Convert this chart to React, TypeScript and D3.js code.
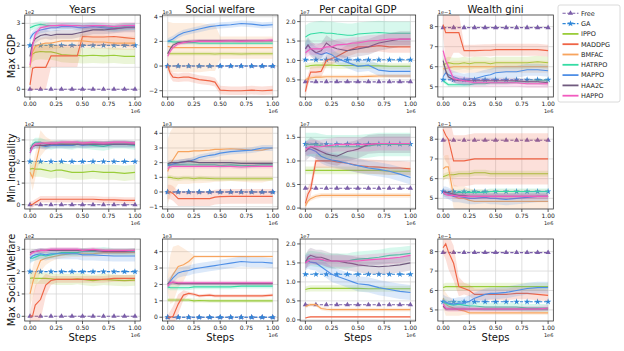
import React from 'react';
import * as d3 from 'd3';

// ---------- data ----------
const steps = [0, 0.025, 0.05, 0.1, 0.15, 0.2, 0.25, 0.3, 0.4, 0.45, 0.5, 0.6, 0.7, 0.8, 0.9, 1.0];
const markerSteps = [0, 0.1, 0.2, 0.3, 0.4, 0.5, 0.6, 0.7, 0.8, 0.9, 1.0];
const methods = ['Free', 'GA', 'IPPO', 'MADDPG', 'BMFAC', 'HATRPO', 'MAPPO', 'HAA2C', 'HAPPO'];
const learners = ['IPPO', 'MADDPG', 'BMFAC', 'HATRPO', 'MAPPO', 'HAA2C', 'HAPPO'];
const colTitles = ['Years', 'Social welfare', 'Per capital GDP', 'Wealth gini'];
const rowTitles = ['Max GDP', 'Min Inequality', 'Max Social Welfare'];
const xTickValues = [0, 0.25, 0.5, 0.75, 1.0];
const xTickLabels = ['0.00', '0.25', '0.50', '0.75', '1.00'];

// Row 1: Max GDP
const gdpYears = {
  Free: 0, GA: 2,
  IPPO: [1.5, 1.6, 1.68, 1.72, 1.7, 1.7, 1.65, 1.58, 1.55, 1.55, 1.52, 1.55, 1.52, 1.55, 1.5, 1.5],
  MADDPG: [0.2, 0.95, 1.0, 1.0, 1.0, 1.52, 1.52, 1.52, 1.52, 1.52, 2.4, 2.38, 2.38, 2.4, 2.35, 2.3],
  BMFAC: [1.0, 1.7, 1.95, 2.05, 2.1, 2.1, 2.15, 2.2, 2.2, 2.2, 2.2, 2.15, 2.15, 2.1, 2.1, 2.1],
  HATRPO: [2.8, 2.85, 2.9, 2.95, 2.92, 2.9, 2.9, 2.88, 2.9, 2.9, 2.88, 2.9, 2.85, 2.8, 2.85, 2.85],
  MAPPO: [2.3, 2.5, 2.6, 2.7, 2.75, 2.8, 2.8, 2.85, 2.85, 2.82, 2.8, 2.85, 2.8, 2.75, 2.8, 2.85],
  HAA2C: [1.5, 2.1, 2.3, 2.45, 2.5, 2.45, 2.5, 2.5, 2.5, 2.55, 2.6, 2.7, 2.7, 2.75, 2.8, 2.8],
  HAPPO: [1.1, 2.0, 2.5, 2.8, 2.85, 2.9, 2.9, 2.92, 2.9, 2.9, 2.88, 2.9, 2.9, 2.85, 2.9, 2.9],
};
const gdpYearsBand = {
  IPPO: 0.35, MADDPG: [0.2, 1.0, 1.0, 1.0, 1.0, 0.5, 0.5, 0.5, 0.5, 0.5, 0.4, 0.4, 0.4, 0.4, 0.4, 0.4],
  BMFAC: 0.3, HATRPO: 0.15, MAPPO: 0.15, HAA2C: 0.2, HAPPO: 0.15,
};
const gdpWelfare = {
  Free: 0, GA: 0,
  IPPO: [1.05, 1.0, 1.0, 1.0, 1.0, 1.0, 1.0, 1.0, 1.0, 0.98, 1.0, 1.0, 0.98, 1.0, 1.0, 1.0],
  MADDPG: [0, -0.6, -0.9, -0.95, -0.9, -0.9, -1.0, -1.1, -1.2, -1.3, -1.95, -2.0, -2.0, -1.95, -2.0, -1.95],
  BMFAC: [1.6, 1.55, 1.5, 1.5, 1.5, 1.5, 1.5, 1.5, 1.5, 1.5, 1.5, 1.5, 1.5, 1.5, 1.5, 1.5],
  HATRPO: [2.0, 2.0, 1.95, 1.95, 1.9, 1.9, 1.9, 1.85, 1.85, 1.85, 1.85, 1.85, 1.85, 1.85, 1.85, 1.85],
  MAPPO: [2.0, 2.1, 2.2, 2.5, 2.7, 2.8, 2.9, 3.0, 3.2, 3.25, 3.3, 3.35, 3.45, 3.4, 3.3, 3.35],
  HAA2C: [1.0, 1.4, 1.7, 1.9, 1.95, 2.0, 2.0, 2.05, 2.05, 2.05, 2.05, 2.05, 2.05, 2.05, 2.05, 2.05],
  HAPPO: [0.8, 1.2, 1.5, 1.8, 1.9, 1.95, 2.0, 2.0, 2.0, 2.0, 2.0, 2.05, 2.0, 2.05, 2.05, 2.1],
};
const gdpWelfareBand = {
  IPPO: 0.15, MADDPG: 0.35,
  BMFAC: [2.0, 2.0, 2.0, 2.0, 2.0, 2.0, 2.0, 2.0, 1.9, 1.9, 0.9, 0.9, 0.9, 0.9, 0.9, 0.9],
  HATRPO: 0.15, MAPPO: 0.25, HAA2C: 0.15, HAPPO: 0.15,
};
const gdpPerCapita = {
  Free: 0.45, GA: 1.02,
  IPPO: [0.85, 0.85, 0.87, 0.88, 0.88, 0.88, 0.88, 0.87, 0.87, 0.87, 0.86, 0.86, 0.86, 0.85, 0.85, 0.85],
  MADDPG: [0.2, 0.5, 0.7, 0.7, 0.72, 1.0, 1.05, 1.1, 1.25, 1.3, 1.35, 1.35, 1.38, 1.35, 1.35, 1.35],
  BMFAC: [0.5, 0.55, 0.55, 0.57, 0.57, 0.58, 0.58, 0.58, 0.58, 0.58, 0.58, 0.59, 0.6, 0.6, 0.6, 0.6],
  HATRPO: [1.6, 1.65, 1.68, 1.7, 1.72, 1.7, 1.7, 1.68, 1.65, 1.65, 1.68, 1.7, 1.72, 1.7, 1.7, 1.7],
  MAPPO: [1.3, 1.4, 1.3, 1.2, 1.15, 1.2, 1.15, 1.05, 0.95, 0.9, 0.85, 0.88, 0.75, 0.72, 0.72, 0.72],
  HAA2C: [1.3, 1.4, 1.3, 1.2, 1.25, 1.45, 1.35, 1.3, 1.25, 1.28, 1.3, 1.35, 1.45, 1.5, 1.55, 1.55],
  HAPPO: [1.2, 1.25, 1.3, 1.3, 1.3, 1.35, 1.35, 1.4, 1.42, 1.45, 1.45, 1.5, 1.52, 1.55, 1.55, 1.55],
};
const gdpPerCapitaBand = {
  IPPO: 0.08, MADDPG: 0.15, BMFAC: 0.05, HATRPO: 0.3, MAPPO: 0.15, HAA2C: 0.2, HAPPO: 0.15,
};
const gdpGini = {
  Free: 7.95, GA: 5.35,
  IPPO: [6.1, 6.15, 6.2, 6.15, 6.15, 6.2, 6.15, 6.2, 6.2, 6.15, 6.2, 6.2, 6.2, 6.2, 6.25, 6.2],
  MADDPG: [8.1, 7.7, 7.7, 7.7, 7.7, 6.8, 6.8, 6.8, 6.82, 6.82, 6.85, 6.85, 6.85, 6.85, 6.85, 6.8],
  BMFAC: [5.9, 5.9, 5.95, 6.0, 6.0, 6.0, 6.0, 6.0, 6.0, 6.0, 6.0, 6.0, 6.0, 6.0, 6.0, 6.0],
  HATRPO: [5.3, 5.2, 5.1, 5.1, 5.1, 5.1, 5.1, 5.15, 5.15, 5.2, 5.2, 5.2, 5.25, 5.25, 5.3, 5.3],
  MAPPO: [5.5, 5.7, 5.6, 5.5, 5.4, 5.35, 5.4, 5.4, 5.55, 5.6, 5.7, 5.75, 5.75, 5.85, 5.85, 5.8],
  HAA2C: [6.3, 5.8, 5.5, 5.35, 5.3, 5.3, 5.3, 5.3, 5.3, 5.3, 5.3, 5.3, 5.3, 5.25, 5.25, 5.2],
  HAPPO: [6.8, 6.3, 6.0, 5.4, 5.35, 5.3, 5.25, 5.2, 5.2, 5.2, 5.2, 5.2, 5.2, 5.15, 5.15, 5.15],
};
const gdpGiniBand = {
  IPPO: 0.3, MADDPG: [0.5, 1.5, 1.5, 1.0, 1.0, 0.3, 0.3, 0.3, 0.3, 0.3, 0.3, 0.3, 0.3, 0.3, 0.3, 0.3],
  BMFAC: 0.3, HATRPO: 0.1, MAPPO: 0.3, HAA2C: 0.15, HAPPO: 0.2,
};

// Row 2: Min Inequality
const ineqYears = {
  Free: 0, GA: 2,
  IPPO: [1.65, 1.68, 1.65, 1.65, 1.6, 1.55, 1.6, 1.6, 1.5, 1.5, 1.5, 1.55, 1.5, 1.5, 1.45, 1.5],
  MADDPG: [0, 0.02, 0.1, 0.25, 0.25, 0.25, 0.25, 0.25, 0.25, 0.25, 0.25, 0.25, 0.22, 0.22, 0.2, 0.2],
  BMFAC: [1.5, 1.25, 1.8, 2.85, 2.85, 2.85, 2.85, 2.85, 2.85, 2.85, 2.85, 2.85, 2.85, 2.85, 2.85, 2.85],
  HATRPO: [2.5, 2.8, 2.9, 2.9, 2.8, 2.75, 2.8, 2.8, 2.75, 2.8, 2.8, 2.75, 2.7, 2.8, 2.8, 2.75],
  MAPPO: [2.4, 2.7, 2.75, 2.75, 2.7, 2.75, 2.75, 2.75, 2.75, 2.8, 2.75, 2.8, 2.8, 2.8, 2.8, 2.8],
  HAA2C: [2.6, 2.7, 2.75, 2.75, 2.75, 2.8, 2.8, 2.8, 2.8, 2.8, 2.8, 2.8, 2.8, 2.8, 2.8, 2.8],
  HAPPO: [2.4, 2.7, 2.8, 2.85, 2.85, 2.85, 2.85, 2.9, 2.9, 2.9, 2.85, 2.9, 2.85, 2.9, 2.9, 2.85],
};
const ineqYearsBand = {
  IPPO: 0.35, MADDPG: 0.15, BMFAC: [0.3, 0.6, 0.6, 0.6, 0.3, 0.15, 0.1, 0.1, 0.1, 0.1, 0.1, 0.1, 0.1, 0.1, 0.1, 0.1],
  HATRPO: 0.2, MAPPO: 0.15, HAA2C: 0.15, HAPPO: 0.1,
};
const ineqWelfare = {
  Free: 0, GA: 0,
  IPPO: [1.0, 1.0, 0.95, 0.9, 0.95, 0.95, 0.9, 0.95, 0.92, 0.9, 0.9, 0.9, 0.9, 0.9, 0.9, 0.9],
  MADDPG: [0, 0, -0.1, -0.45, -0.45, -0.45, -0.45, -0.45, -0.45, -0.35, -0.32, -0.3, -0.3, -0.3, -0.3, -0.3],
  BMFAC: [1.4, 1.9, 2.2, 2.75, 2.75, 2.75, 2.8, 2.8, 2.85, 2.9, 2.9, 2.95, 2.9, 2.85, 2.85, 3.0],
  HATRPO: [1.9, 1.85, 1.85, 1.85, 1.85, 1.85, 1.85, 1.85, 1.85, 1.85, 1.8, 1.85, 1.8, 1.8, 1.85, 1.85],
  MAPPO: [1.8, 1.85, 1.9, 2.0, 2.05, 2.1, 2.2, 2.35, 2.5, 2.55, 2.65, 2.75, 2.8, 2.85, 3.0, 3.0],
  HAA2C: [1.9, 2.0, 2.0, 2.0, 2.05, 2.1, 2.05, 2.0, 2.0, 2.0, 2.0, 2.0, 1.95, 1.95, 1.95, 1.95],
  HAPPO: [1.6, 1.7, 1.75, 1.75, 1.75, 1.75, 1.75, 1.75, 1.75, 1.75, 1.75, 1.75, 1.7, 1.75, 1.75, 1.75],
};
const ineqWelfareBand = {
  IPPO: 0.15, MADDPG: 0.5, BMFAC: 2.2, HATRPO: 0.15, MAPPO: 0.2, HAA2C: 0.2, HAPPO: 0.15,
};
const ineqPerCapita = {
  Free: 0.42, GA: 1.36,
  IPPO: [0.8, 0.8, 0.8, 0.8, 0.8, 0.8, 0.8, 0.8, 0.8, 0.8, 0.8, 0.8, 0.8, 0.78, 0.78, 0.78],
  MADDPG: [0.1, 0.3, 0.4, 1.0, 1.0, 1.0, 1.0, 0.98, 0.95, 0.93, 0.9, 0.88, 0.87, 0.85, 0.85, 0.83],
  BMFAC: [0.05, 0.15, 0.2, 0.25, 0.27, 0.27, 0.27, 0.27, 0.27, 0.27, 0.27, 0.27, 0.27, 0.27, 0.27, 0.27],
  HATRPO: [1.35, 1.35, 1.35, 1.35, 1.32, 1.3, 1.3, 1.3, 1.3, 1.3, 1.3, 1.32, 1.35, 1.35, 1.35, 1.35],
  MAPPO: [1.3, 1.25, 1.25, 1.2, 1.1, 1.05, 1.02, 1.0, 0.95, 0.92, 0.9, 0.85, 0.82, 0.78, 0.72, 0.65],
  HAA2C: [1.2, 1.25, 1.3, 1.25, 1.2, 1.15, 1.12, 1.1, 1.2, 1.22, 1.25, 1.35, 1.37, 1.37, 1.37, 1.37],
  HAPPO: [1.25, 1.28, 1.3, 1.3, 1.3, 1.32, 1.33, 1.35, 1.35, 1.35, 1.35, 1.35, 1.37, 1.37, 1.37, 1.37],
};
const ineqPerCapitaBand = {
  IPPO: 0.08, MADDPG: 0.15, BMFAC: 0.05, HATRPO: 0.25, MAPPO: 0.15, HAA2C: 0.2, HAPPO: 0.15,
};
const ineqGini = {
  Free: 7.95, GA: 5.35,
  IPPO: [6.1, 6.15, 6.2, 6.2, 6.25, 6.25, 6.25, 6.3, 6.3, 6.25, 6.25, 6.25, 6.25, 6.25, 6.25, 6.25],
  MADDPG: [8.5, 8.2, 8.0, 6.9, 6.9, 6.9, 6.95, 7.0, 7.0, 7.0, 7.0, 7.0, 7.0, 7.0, 7.0, 7.0],
  BMFAC: [6.5, 6.6, 6.6, 5.1, 5.0, 5.0, 4.9, 4.85, 4.85, 4.85, 4.85, 4.85, 4.85, 4.85, 4.85, 4.85],
  HATRPO: [5.25, 5.2, 5.2, 5.25, 5.3, 5.3, 5.3, 5.3, 5.3, 5.35, 5.35, 5.35, 5.35, 5.35, 5.35, 5.35],
  MAPPO: [5.3, 5.3, 5.25, 5.1, 5.1, 5.05, 5.0, 5.0, 5.05, 5.0, 5.0, 4.95, 5.0, 5.05, 5.1, 5.1],
  HAA2C: [5.35, 5.3, 5.3, 5.2, 5.15, 5.15, 5.1, 5.1, 5.1, 5.1, 5.1, 5.1, 5.1, 5.1, 5.1, 5.1],
  HAPPO: [5.3, 5.2, 5.15, 5.15, 5.1, 5.1, 5.1, 5.1, 5.1, 5.1, 5.1, 5.1, 5.1, 5.1, 5.1, 5.1],
};
const ineqGiniBand = {
  IPPO: 0.15, MADDPG: 1.3, BMFAC: 0.6, HATRPO: 0.15, MAPPO: 0.3, HAA2C: 0.15, HAPPO: 0.15,
};

// Row 3: Max Social Welfare
const welfYears = {
  Free: 0, GA: 2,
  IPPO: [1.7, 1.72, 1.7, 1.7, 1.7, 1.68, 1.65, 1.65, 1.65, 1.68, 1.65, 1.6, 1.65, 1.62, 1.6, 1.62],
  MADDPG: [0, 0.02, 0.5, 0.75, 1.4, 1.6, 1.65, 1.65, 1.65, 1.65, 1.65, 1.65, 1.65, 1.7, 1.7, 1.7],
  BMFAC: [1.0, 1.5, 1.9, 2.5, 2.6, 2.65, 2.7, 2.75, 2.8, 2.8, 2.8, 2.8, 2.85, 2.85, 2.85, 2.85],
  HATRPO: [2.6, 2.6, 2.65, 2.75, 2.7, 2.75, 2.8, 2.85, 2.85, 2.85, 2.9, 2.9, 2.95, 2.9, 2.9, 2.9],
  MAPPO: [2.6, 2.7, 2.75, 2.8, 2.75, 2.8, 2.8, 2.8, 2.8, 2.8, 2.75, 2.75, 2.72, 2.7, 2.7, 2.7],
  HAA2C: [2.85, 2.9, 2.9, 2.95, 2.95, 2.95, 2.95, 2.95, 2.95, 2.95, 2.95, 2.95, 2.9, 2.9, 2.9, 2.95],
  HAPPO: [2.75, 2.85, 2.9, 2.95, 2.95, 3.0, 3.0, 3.0, 3.0, 3.0, 2.95, 3.0, 2.95, 2.95, 2.95, 2.95],
};
const welfYearsBand = {
  IPPO: 0.25, MADDPG: [0.1, 0.8, 0.9, 0.9, 0.5, 0.2, 0.15, 0.15, 0.15, 0.15, 0.15, 0.15, 0.15, 0.15, 0.15, 0.15],
  BMFAC: [0.5, 0.7, 0.7, 0.5, 0.3, 0.2, 0.15, 0.15, 0.15, 0.15, 0.15, 0.15, 0.15, 0.15, 0.15, 0.15],
  HATRPO: 0.15, MAPPO: 0.25, HAA2C: 0.1, HAPPO: 0.1,
};
const welfWelfare = {
  Free: 0, GA: 0,
  IPPO: [1.05, 1.05, 1.05, 1.05, 1.05, 1.05, 1.0, 1.02, 1.0, 1.0, 1.0, 1.0, 1.0, 1.0, 1.0, 1.0],
  MADDPG: [0, 0, 0.05, 0.8, 1.35, 1.45, 1.4, 1.3, 1.35, 1.3, 1.3, 1.3, 1.3, 1.3, 1.3, 1.35],
  BMFAC: [2.0, 2.3, 2.6, 3.1, 3.2, 3.4, 3.7, 3.7, 3.7, 3.7, 3.7, 3.7, 3.7, 3.7, 3.7, 3.7],
  HATRPO: [1.85, 1.8, 1.8, 1.8, 1.8, 1.8, 1.85, 1.85, 1.85, 1.85, 1.85, 1.85, 1.9, 1.9, 1.9, 1.9],
  MAPPO: [2.0, 2.2, 2.4, 2.7, 2.8, 2.85, 2.95, 3.0, 3.1, 3.15, 3.2, 3.3, 3.4, 3.35, 3.35, 3.3],
  HAA2C: [2.05, 2.1, 2.1, 2.05, 2.05, 2.05, 2.05, 2.05, 2.05, 2.05, 2.05, 2.05, 2.05, 2.05, 2.05, 2.05],
  HAPPO: [1.9, 2.1, 2.15, 2.1, 2.1, 2.1, 2.1, 2.1, 2.1, 2.1, 2.1, 2.1, 2.1, 2.1, 2.1, 2.1],
};
const welfWelfareBand = {
  IPPO: 0.12, MADDPG: [0.1, 0.4, 0.6, 0.6, 0.3, 0.1, 0.1, 0.1, 0.1, 0.1, 0.1, 0.1, 0.1, 0.1, 0.1, 0.1],
  BMFAC: [0.5, 1.5, 1.7, 1.3, 1.0, 0.6, 0.1, 0.08, 0.08, 0.08, 0.08, 0.08, 0.08, 0.08, 0.08, 0.08],
  HATRPO: 0.15, MAPPO: 0.3, HAA2C: 0.12, HAPPO: 0.12,
};
const welfPerCapita = {
  Free: 0.4, GA: 1.2,
  IPPO: [0.8, 0.82, 0.83, 0.83, 0.83, 0.83, 0.83, 0.83, 0.83, 0.83, 0.83, 0.82, 0.82, 0.82, 0.82, 0.82],
  MADDPG: [0.05, 0.07, 0.08, 0.08, 0.08, 0.08, 0.08, 0.08, 0.08, 0.08, 0.08, 0.08, 0.08, 0.08, 0.08, 0.08],
  BMFAC: [0.35, 0.38, 0.4, 0.4, 0.3, 0.28, 0.27, 0.27, 0.27, 0.27, 0.27, 0.27, 0.27, 0.27, 0.27, 0.27],
  HATRPO: [1.55, 1.6, 1.62, 1.6, 1.58, 1.55, 1.55, 1.55, 1.55, 1.58, 1.6, 1.62, 1.65, 1.7, 1.72, 1.75],
  MAPPO: [1.5, 1.55, 1.52, 1.5, 1.4, 1.3, 1.2, 1.15, 1.05, 1.0, 0.95, 0.92, 0.85, 0.8, 0.75, 0.72],
  HAA2C: [1.5, 1.65, 1.7, 1.65, 1.65, 1.6, 1.55, 1.55, 1.5, 1.48, 1.45, 1.42, 1.4, 1.42, 1.45, 1.5],
  HAPPO: [1.5, 1.55, 1.6, 1.6, 1.6, 1.55, 1.55, 1.55, 1.55, 1.55, 1.55, 1.58, 1.6, 1.62, 1.65, 1.7],
};
const welfPerCapitaBand = {
  IPPO: 0.08, MADDPG: 0.02, BMFAC: 0.05, HATRPO: 0.2, MAPPO: 0.2, HAA2C: 0.2, HAPPO: 0.15,
};
const welfGini = {
  Free: 7.95, GA: 5.42,
  IPPO: [6.15, 6.2, 6.2, 6.2, 6.2, 6.2, 6.2, 6.2, 6.2, 6.2, 6.2, 6.2, 6.2, 6.2, 6.2, 6.2],
  MADDPG: [8.2, 8.4, 8.0, 7.4, 6.2, 6.1, 6.0, 5.8, 5.8, 5.8, 5.8, 5.8, 5.85, 5.85, 5.8, 5.75],
  BMFAC: [5.6, 5.3, 5.2, 5.1, 5.0, 4.95, 4.85, 4.85, 4.85, 4.85, 4.85, 4.85, 4.85, 4.85, 4.85, 4.85],
  HATRPO: [5.45, 5.35, 5.3, 5.25, 5.3, 5.25, 5.2, 5.2, 5.15, 5.15, 5.15, 5.15, 5.15, 5.1, 5.1, 5.1],
  MAPPO: [5.5, 5.4, 5.35, 5.3, 5.35, 5.35, 5.45, 5.6, 5.8, 5.85, 5.85, 5.9, 6.0, 6.1, 6.15, 6.15],
  HAA2C: [5.2, 5.05, 5.05, 5.05, 5.05, 5.05, 5.05, 5.05, 5.05, 5.05, 5.05, 5.05, 5.05, 5.05, 5.05, 5.05],
  HAPPO: [5.3, 5.1, 5.05, 5.05, 5.05, 5.05, 5.05, 5.05, 5.05, 5.05, 5.05, 5.05, 5.05, 5.05, 5.05, 5.1],
};
const welfGiniBand = {
  IPPO: 0.2, MADDPG: [0.3, 0.8, 0.9, 0.9, 0.5, 0.3, 0.3, 0.3, 0.3, 0.3, 0.3, 0.3, 0.3, 0.3, 0.3, 0.3],
  BMFAC: [0.5, 0.6, 0.5, 0.4, 0.3, 0.2, 0.1, 0.1, 0.1, 0.1, 0.1, 0.1, 0.1, 0.1, 0.1, 0.1],
  HATRPO: 0.2, MAPPO: 0.3, HAA2C: 0.1, HAPPO: 0.15,
};

// y ticks
const ticksYears = [0, 1, 2, 3];
const ticksWelfareTop = [-2, 0, 2, 4];
const ticksWelfareMid = [-1, 0, 1, 2, 3, 4];
const ticksWelfareBot = [0, 1, 2, 3, 4];
const ticksPerCapitaTop = [0.5, 1.0, 1.5, 2.0];
const ticksPerCapitaMid = [0.0, 0.5, 1.0, 1.5];
const ticksPerCapitaBot = [0.0, 0.5, 1.0, 1.5, 2.0];
const ticksGini = [5, 6, 7, 8];

// ---------- styles / layout ----------
const COLORS = {
  Free: '#7b5ea8', GA: '#2f86d8', IPPO: '#9acd3a', MADDPG: '#ef6445', BMFAC: '#f7a45e',
  HATRPO: '#35dca4', MAPPO: '#4f8fe6', HAA2C: '#705a7e', HAPPO: '#f25bbf',
};
const FONT = 'DejaVu Sans, sans-serif';
const COL_X = [30, 167.7, 305.4, 443.1];
const ROW_Y = [15, 127, 239];
const DW = 105;
const H = 82;

const panels = [
  [
    { data: gdpYears, band: gdpYearsBand, domain: [-0.35, 3.38], ticks: ticksYears, dec: 0, exp: '1e2' },
    { data: gdpWelfare, band: gdpWelfareBand, domain: [-2.51, 4.14], ticks: ticksWelfareTop, dec: 0, exp: '1e3' },
    { data: gdpPerCapita, band: gdpPerCapitaBand, domain: [0.06, 2.17], ticks: ticksPerCapitaTop, dec: 1, exp: '1e7' },
    { data: gdpGini, band: gdpGiniBand, domain: [4.49, 8.58], ticks: ticksGini, dec: 0, exp: '1e\u22121' },
  ],
  [
    { data: ineqYears, band: ineqYearsBand, domain: [-0.2, 3.6], ticks: ticksYears, dec: 0, exp: '1e2' },
    { data: ineqWelfare, band: ineqWelfareBand, domain: [-1.16, 4.43], ticks: ticksWelfareMid, dec: 0, exp: '1e3' },
    { data: ineqPerCapita, band: ineqPerCapitaBand, domain: [-0.02, 1.72], ticks: ticksPerCapitaMid, dec: 1, exp: '1e7' },
    { data: ineqGini, band: ineqGiniBand, domain: [4.46, 8.62], ticks: ticksGini, dec: 0, exp: '1e\u22121' },
  ],
  [
    { data: welfYears, band: welfYearsBand, domain: [-0.21, 3.46], ticks: ticksYears, dec: 0, exp: '1e2' },
    { data: welfWelfare, band: welfWelfareBand, domain: [-0.23, 4.77], ticks: ticksWelfareBot, dec: 0, exp: '1e3' },
    { data: welfPerCapita, band: welfPerCapitaBand, domain: [-0.03, 2.13], ticks: ticksPerCapitaBot, dec: 1, exp: '1e7' },
    { data: welfGini, band: welfGiniBand, domain: [4.43, 8.65], ticks: ticksGini, dec: 0, exp: '1e\u22121' },
  ],
];

const fmtTick = (v: number, dec: number) => {
  const s = v.toFixed(dec);
  return s.startsWith('-') ? '\u2212' + s.slice(1) : s;
};

function Panel({ p, r, c }: { p: any; r: number; c: number }) {
  const x0 = COL_X[c];
  const top = ROW_Y[r];
  const bottom = top + H;
  const left = x0 - DW * 0.05;
  const right = x0 + DW * 1.05;
  const x = d3.scaleLinear().domain([0, 1]).range([x0, x0 + DW]);
  const y = d3.scaleLinear().domain(p.domain).range([bottom, top]);
  const clipId = `clip-${r}-${c}`;
  const line = d3.line<[number, number]>().x(d => x(d[0])).y(d => y(d[1]));
  const area = d3.area<[number, number, number]>().x(d => x(d[0])).y0(d => y(d[1] - d[2])).y1(d => y(d[1] + d[2]));

  const tri = d3.symbol().type(d3.symbolTriangle).size(12)();
  const star = d3.symbol().type(d3.symbolStar).size(13)();

  return (
    <g>
      <defs>
        <clipPath id={clipId}>
          <rect x={left} y={top} width={right - left} height={H} />
        </clipPath>
      </defs>
      {/* grid */}
      {xTickValues.map(v => (
        <line key={'gx' + v} x1={x(v)} x2={x(v)} y1={top} y2={bottom} stroke="#d8d8d8" strokeWidth={0.8} />
      ))}
      {p.ticks.map((v: number) => (
        <line key={'gy' + v} x1={left} x2={right} y1={y(v)} y2={y(v)} stroke="#d8d8d8" strokeWidth={0.8} />
      ))}
      <g clipPath={`url(#${clipId})`}>
        {/* Free & GA */}
        {['Free', 'GA'].map(m => {
          const v = p.data[m];
          const pts: [number, number][] = steps.map(s => [s, v]);
          return (
            <g key={m}>
              <path d={line(pts) || ''} fill="none" stroke={COLORS[m]} strokeWidth={1.1} strokeDasharray="3.2,1.6" />
              {markerSteps.map(s => (
                <path key={s} d={m === 'Free' ? tri : star} transform={`translate(${x(s)},${y(v)})`} fill={COLORS[m]} />
              ))}
            </g>
          );
        })}
        {learners.map(m => {
          const vals: number[] = p.data[m];
          const b = p.band[m];
          const bandPts: [number, number, number][] = steps.map((s, i) => [s, vals[i], Array.isArray(b) ? b[i] : b]);
          const pts: [number, number][] = steps.map((s, i) => [s, vals[i]]);
          return (
            <g key={m}>
              <path d={area(bandPts) || ''} fill={COLORS[m]} fillOpacity={0.2} stroke="none" />
              <path d={line(pts) || ''} fill="none" stroke={COLORS[m]} strokeWidth={1.15} />
            </g>
          );
        })}
      </g>
      {/* frame */}
      <rect x={left} y={top} width={right - left} height={H} fill="none" stroke="#333" strokeWidth={0.8} />
      {/* x ticks */}
      {xTickValues.map((v, i) => (
        <g key={'xt' + v}>
          <line x1={x(v)} x2={x(v)} y1={bottom} y2={bottom + 3} stroke="#333" strokeWidth={0.8} />
          <text x={x(v)} y={bottom + 9.2} fontSize={6} fontFamily={FONT} textAnchor="middle" fill="#222">{xTickLabels[i]}</text>
        </g>
      ))}
      <text x={right} y={bottom + 15.5} fontSize={5} fontFamily={FONT} textAnchor="end" fill="#222">1e6</text>
      {/* y ticks */}
      {p.ticks.map((v: number) => (
        <g key={'yt' + v}>
          <line x1={left - 3} x2={left} y1={y(v)} y2={y(v)} stroke="#333" strokeWidth={0.8} />
          <text x={left - 4.5} y={y(v) + 2.1} fontSize={6} fontFamily={FONT} textAnchor="end" fill="#222">{fmtTick(v, p.dec)}</text>
        </g>
      ))}
      <text x={left} y={top - 1.5} fontSize={5} fontFamily={FONT} fill="#222">{p.exp}</text>
      {r === 0 && (
        <text x={x(0.5)} y={top - 1.8} fontSize={10} fontFamily={FONT} textAnchor="middle" fill="#111">{colTitles[c]}</text>
      )}
      {r === 2 && (
        <text x={x(0.5)} y={bottom + 20} fontSize={10} fontFamily={FONT} textAnchor="middle" fill="#111">Steps</text>
      )}
      {c === 0 && (
        <text transform={`translate(14.5,${top + H / 2}) rotate(-90)`} fontSize={9.8} fontFamily={FONT} textAnchor="middle" fill="#111">{rowTitles[r]}</text>
      )}
    </g>
  );
}

function Legend() {
  const x0 = 558;
  const y0 = 5;
  const tri = d3.symbol().type(d3.symbolTriangle).size(12)();
  const star = d3.symbol().type(d3.symbolStar).size(13)();
  return (
    <g>
      <rect x={x0} y={y0} width={62} height={97} rx={2} fill="#fff" stroke="#d0d0d0" strokeWidth={0.8} />
      {methods.map((m, i) => {
        const cy = 13.3 + i * 10.3;
        const dashed = m === 'Free' || m === 'GA';
        return (
          <g key={m}>
            <line x1={562.5} x2={578.5} y1={cy} y2={cy} stroke={COLORS[m]} strokeWidth={dashed ? 1.1 : 1.8} strokeDasharray={dashed ? '3.2,1.6' : undefined} />
            {dashed && <path d={m === 'Free' ? tri : star} transform={`translate(570.5,${cy})`} fill={COLORS[m]} />}
            <text x={581} y={cy + 2.3} fontSize={6.5} fontFamily={FONT} fill="#222">{m}</text>
          </g>
        );
      })}
    </g>
  );
}

export default function App() {
  return (
    <svg width={624} height={351} style={{ position: 'absolute', left: 0, top: 0, background: '#fff' }}>
      <rect width={624} height={351} fill="#fff" />
      {panels.map((row, r) => row.map((p, c) => <Panel key={`${r}-${c}`} p={p} r={r} c={c} />))}
      <Legend />
    </svg>
  );
}
